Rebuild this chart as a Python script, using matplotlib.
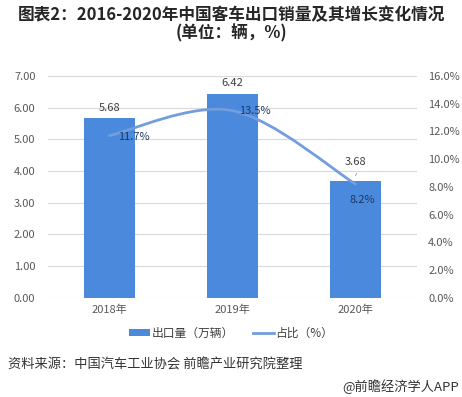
import numpy as np
import matplotlib
matplotlib.use("Agg")
import matplotlib.pyplot as plt
from matplotlib.path import Path
from matplotlib.patches import PathPatch

plt.rcParams['font.family'] = ['Noto Sans CJK SC', 'DejaVu Sans']

years = ["2018年", "2019年", "2020年"]
export_volume = [5.68, 6.42, 3.68]   # 万辆
share_pct = [11.7, 13.5, 8.2]        # %

bar_color = "#4a89dc"
line_color = "#729ddf"
W, H = 462, 397

fig = plt.figure(figsize=(W / 100, H / 100), dpi=100)
ax = fig.add_axes([48 / W, (H - 297.7) / H, 369 / W, 221.7 / H])
ax2 = ax.twinx()

x = np.arange(len(years))
bars = ax.bar(x, export_volume, width=0.415, color=bar_color, zorder=2, label="出口量（万辆）")

ax.set_xlim(-0.5, 2.5)
ax.set_ylim(0, 7)
ax.set_yticks(np.arange(0, 8, 1))
ax.set_yticklabels([f"{v:.2f}" for v in np.arange(0, 8, 1)])
ax2.set_ylim(0, 16)
ax2.set_yticks(np.arange(0, 17, 2))
ax2.set_yticklabels([f"{v:.1f}%" for v in np.arange(0, 17, 2)])
ax.set_xticks(x)
ax.set_xticklabels(years)

for a in (ax, ax2):
    for s in a.spines.values():
        s.set_visible(False)
    a.tick_params(length=0, labelsize=8, colors="#595959")
ax.tick_params(axis="y", pad=9)
ax.tick_params(axis="x", pad=5)
ax2.tick_params(axis="y", pad=8)
ax.grid(axis="y", color="#d9d9d9", lw=0.8, zorder=0)
ax.set_axisbelow(True)

# smoothed line (Excel style bezier through the points)
pts = np.column_stack([x, share_pct]).astype(float)
verts = [tuple(pts[0])]
codes = [Path.MOVETO]
n = len(pts)
for i in range(n - 1):
    p0 = pts[max(i - 1, 0)]
    p1 = pts[i]
    p2 = pts[i + 1]
    p3 = pts[min(i + 2, n - 1)]
    c1 = p1 + (p2 - p0) / 6
    c2 = p2 - (p3 - p1) / 6
    verts += [tuple(c1), tuple(c2), tuple(p2)]
    codes += [Path.CURVE4] * 3
ax2.add_patch(PathPatch(Path(verts, codes), fill=False, edgecolor=line_color,
                        lw=2.0, zorder=3, capstyle="round"))
ax2.plot([], [], color=line_color, lw=2.0, label="占比（%）")

# value labels
px = 0.72
bar_off = [10, 11, 19]
for i, v in enumerate(export_volume):
    ax.annotate(f"{v:.2f}", (x[i], v), xytext=(0, bar_off[i] * px), textcoords="offset points",
                ha="center", va="center", fontsize=8, color="#404040", zorder=5)
ax.annotate("", (x[2] - 0.01, export_volume[2] + 0.1), xytext=(x[2] + 0.02, export_volume[2] + 0.33),
            arrowprops=dict(arrowstyle="-", color="#a6a6a6", lw=0.7))

pct_off = [(24, -1), (22, 0), (7, -16)]
for i, v in enumerate(share_pct):
    dx, dy = pct_off[i]
    ax2.annotate(f"{v}%", (x[i], v), xytext=(dx * px, dy * px), textcoords="offset points",
                 ha="center", va="center", fontsize=8, color="#1f3864", zorder=5)

# legend
h1, l1 = ax.get_legend_handles_labels()
h2, l2 = ax2.get_legend_handles_labels()
fig.legend(h1 + h2, l1 + l2, loc="center", bbox_to_anchor=(0.5, 1 - 333 / H), ncol=2,
           frameon=False, fontsize=8.5, handlelength=1.8, handleheight=0.6,
           columnspacing=1.6, handletextpad=0.1, labelcolor="#404040")

fig.text(0.5, 1 - 15 / H, "图表2：2016-2020年中国客车出口销量及其增长变化情况",
         ha="center", va="center", fontsize=12, fontweight="bold", color="#262626")
fig.text(0.5, 1 - 33 / H, "(单位：辆，%)",
         ha="center", va="center", fontsize=12, fontweight="bold", color="#262626")
fig.text(8 / W, 1 - 365 / H, "资料来源：中国汽车工业协会 前瞻产业研究院整理",
         ha="left", va="center", fontsize=9.5, color="#333333")
fig.text(459 / W, 1 - 387 / H, "@前瞻经济学人APP",
         ha="right", va="center", fontsize=9.5, color="#333333")

fig.savefig("out.png", dpi=100)
